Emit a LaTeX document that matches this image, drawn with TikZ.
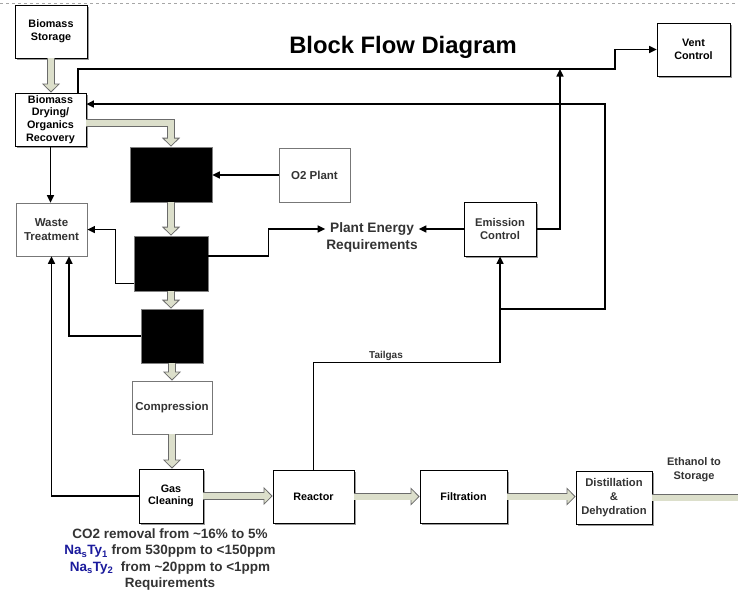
\documentclass[tikz,border=0pt]{standalone}
\usepackage{fontspec}
\setmainfont{Liberation Sans}
\usetikzlibrary{arrows.meta, calc, shadows}
\definecolor{pipefill}{HTML}{DCDFCB}
\definecolor{pipeedge}{HTML}{6B6B6B}
\definecolor{txtgray}{HTML}{333333}
\definecolor{boxgray}{HTML}{777777}
\definecolor{nablue}{HTML}{1A1A9C}

\tikzset{
  boxbase/.style={draw=black, line width=0.8pt, fill=white, align=center, inner sep=1pt,
    font=\fontsize{10.8}{12.6}\selectfont\bfseries},
  unit/.style={boxbase, drop shadow={shadow xshift=1.6pt, shadow yshift=-1.6pt, fill=gray!80, opacity=1}},
  auxunit/.style={boxbase, draw=boxgray, text=txtgray, font=\fontsize{11.5}{13.5}\selectfont\bfseries},
  blackunit/.style={draw=gray, fill=black, line width=0.6pt,
    drop shadow={shadow xshift=1.4pt, shadow yshift=-1.4pt, fill=gray!70, opacity=1}},
  flow/.style={draw=black, line width=1.4pt, -{Triangle[length=7.5pt, width=7pt]}},
  pipe/.style={draw=pipeedge, line width=7.6pt,
    -{Triangle[width=18pt, length=9pt, line width=0.8pt, fill=pipefill]},
    postaction={draw=pipefill, line width=6pt, -, shorten >=8pt}},
  pipeopen/.style={draw=pipeedge, line width=7.6pt, postaction={draw=pipefill, line width=6pt}},
  note/.style={text=txtgray, align=center, inner sep=1pt}
}

\begin{document}
\begin{tikzpicture}[x=1pt, y=-1pt]
  \useasboundingbox (0,0) rectangle (738,595);
  \draw[gray!70, dashed, line width=0.7pt] (0,3) -- (738,3);

  % title
  \node[font=\fontsize{23.8}{28}\selectfont\bfseries] (title) at (403,47) {Block Flow Diagram};

  % process units
  \node[unit, minimum width=72, minimum height=53] (storage) at (51,31.5) {Biomass\\Storage};
  \node[unit, minimum width=71, minimum height=53] (drying) at (50.5,119.5) {Biomass\\Drying/\\Organics\\Recovery};
  \node[auxunit, minimum width=71, minimum height=53] (waste) at (51.5,229.5) {Waste\\Treatment};
  \node[blackunit, minimum width=82, minimum height=55] (blockA) at (171,174.5) {};
  \node[auxunit, minimum width=71, minimum height=54] (o2) at (314.5,175) {O2 Plant};
  \node[blackunit, minimum width=74, minimum height=55] (blockB) at (171,263.5) {};
  \node[blackunit, minimum width=62, minimum height=54] (blockC) at (172,336) {};
  \node[auxunit, minimum width=80, minimum height=53] (compression) at (172,407.5) {Compression};
  \node[unit, minimum width=64, minimum height=54] (gas) at (171,496) {Gas\\Cleaning};
  \node[unit, minimum width=81, minimum height=53] (reactor) at (313.5,496.5) {Reactor};
  \node[unit, minimum width=87, minimum height=53] (filtration) at (463.5,496.5) {Filtration};
  \node[unit, text=txtgray, font=\fontsize{11.2}{14}\selectfont\bfseries, minimum width=76, minimum height=53] (distill) at (614,497.5) {Distillation\\\&\\Dehydration};
  \node[unit, text=txtgray, font=\fontsize{11.2}{13}\selectfont\bfseries, minimum width=72, minimum height=54] (emission) at (500,229) {Emission\\Control};
  \node[unit, minimum width=73, minimum height=53] (vent) at (693.5,49.5) {Vent\\Control};

  % labels
  \node[note, font=\fontsize{13.7}{17}\selectfont\bfseries] (energy) at (372,237.5) {Plant Energy\\Requirements};
  \node[note, font=\fontsize{10}{12}\selectfont\bfseries] (tailgas) at (386,356) {Tailgas};
  \node[note, font=\fontsize{11}{14}\selectfont\bfseries] (ethanol) at (694,470) {Ethanol to\\Storage};
  \node[note, font=\fontsize{13.5}{16.3}\selectfont\bfseries] (spec) at (170,559.5)
    {CO2 removal from \textasciitilde16\% to 5\%\\
     {\color{nablue}Na\textsubscript{s}Ty\textsubscript{1}} from 530ppm to <150ppm\\
     {\color{nablue}Na\textsubscript{s}Ty\textsubscript{2}}\ \ from \textasciitilde20ppm to <1ppm\\
     Requirements};

  % solid flows
  \draw[flow] (o2.west) -- (o2.west -| blockA.east);
  \draw[flow] (drying.south) -- (drying.south |- waste.north);
  \draw[flow] ([yshift=7.5pt]blockB.east) -- ++(60,0) |- ([yshift=8.5pt]energy.west);
  \draw[flow] (emission.west) -- (emission.west -| energy.east);
  \draw[flow] ([yshift=8pt]blockB.south west) -- ++(-18,0) |- (waste.east);
  \draw[flow] (blockC.west) -| ([xshift=17.5pt]waste.south);
  \draw[flow] (gas.west) -| (waste.south);
  \draw[flow] (reactor.north) -- ++(0,-107) -| (emission.south);
  \coordinate (split) at (500,309);
  \coordinate (recycle) at (605,309);
  \draw[flow] (split) -- (recycle) |- ([yshift=15.5pt]drying.east);
  \coordinate (ventjoin) at (560,69);
  \draw[flow] (emission.east) -| (ventjoin);
  \coordinate (ventbend) at (615,69);
  \draw[flow] ([xshift=27.5pt]drying.north) |- (ventbend) |- (vent.west);

  % main material pipes
  \draw[pipe] (storage.south) -- (storage.south |- drying.north);
  \draw[pipe] ([yshift=-3.5pt]drying.east) -| (blockA.north);
  \draw[pipe] (blockA.south) -- (blockA.south |- blockB.north);
  \draw[pipe] (blockB.south) -- (blockB.south |- blockC.north);
  \draw[pipe] (blockC.south) -- (blockC.south |- compression.north);
  \draw[pipe] (compression.south) -- (compression.south |- gas.north);
  \draw[pipe] (gas.east) -- (gas.east -| reactor.west);
  \draw[pipe] (reactor.east) -- (reactor.east -| filtration.west);
  \draw[pipe] (filtration.east) -- (filtration.east -| distill.west);
  \coordinate (ethout) at (738,497.5);
  \draw[pipeopen] (distill.east) -- (ethout);
\end{tikzpicture}
\end{document}
